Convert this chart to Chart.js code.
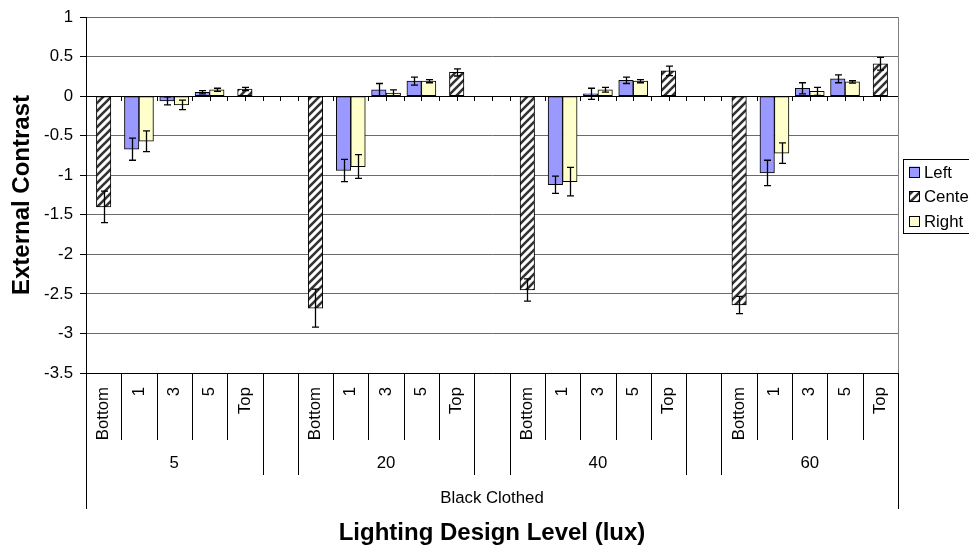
<!DOCTYPE html>
<html>
<head>
<meta charset="utf-8">
<script src="https://cdn.jsdelivr.net/npm/chart.js@4.4.0/dist/chart.umd.min.js"></script>
<style>
html,body{margin:0;padding:0;background:#fff;overflow:hidden}
#wrap{width:969px;height:547px;position:relative}
</style>
</head>
<body>
<div id="wrap"><canvas id="c" width="969" height="547"></canvas></div>
<script>
// ---- data ----
const categories = ['Bottom','1','3','5','Top','',
                    'Bottom','1','3','5','Top','',
                    'Bottom','1','3','5','Top','',
                    'Bottom','1','3','5','Top'];
const groupLabels = ['5','20','40','60'];
const groupStarts = [0, 6, 12, 18];
const outerLabel = 'Black Clothed';
const seriesNames = ['Left','Center','Right'];

const leftValues   = [null,-0.67,-0.06,0.05,null,null, null,-0.94,0.08,0.19,null,null, null,-1.12,0.03,0.20,null,null, null,-0.97,0.10,0.22,null];
const centerValues = [-1.40,null,null,null,0.09,null, -2.68,null,null,null,0.30,null, -2.45,null,null,null,0.32,null, -2.64,null,null,null,0.41];
const rightValues  = [null,-0.57,-0.11,0.08,null,null, null,-0.89,0.04,0.19,null,null, null,-1.08,0.08,0.19,null,null, null,-0.72,0.06,0.18,null];

const leftErrors   = [null,0.14,0.05,0.02,null,null, null,0.14,0.08,0.05,null,null, null,0.11,0.07,0.04,null,null, null,0.16,0.07,0.05,null];
const centerErrors = [0.20,null,null,null,0.02,null, 0.24,null,null,null,0.045,null, 0.14,null,null,null,0.06,null, 0.11,null,null,null,0.08];
const rightErrors  = [null,0.13,0.06,0.02,null,null, null,0.15,0.04,0.02,null,null, null,0.18,0.03,0.02,null,null, null,0.13,0.05,0.015,null];

const yMin = -3.5, yMax = 1, yStep = 0.5;

// ---- styles ----
const FONT = "'Liberation Sans', Arial, sans-serif";
const SMALL = 16.8;

const canvas = document.getElementById('c');
const ctx = canvas.getContext('2d');

function makeHatch() {
  const t = document.createElement('canvas');
  t.width = 8; t.height = 8;
  const g = t.getContext('2d');
  g.fillStyle = '#fff'; g.fillRect(0,0,8,8);
  g.strokeStyle = '#333'; g.lineWidth = 2.6;
  g.beginPath();
  g.moveTo(-2,10); g.lineTo(10,-2);
  g.moveTo(-2,2); g.lineTo(2,-2);
  g.moveTo(6,10); g.lineTo(10,6);
  g.stroke();
  return ctx.createPattern(t,'repeat');
}
const hatch = makeHatch();
const fills = ['#9999FF', hatch, '#FFFFCC'];
const errorsBySeries = [leftErrors, centerErrors, rightErrors];

// zero-line tick marks (behind bars)
const zeroTicks = {
  id:'zeroTicks',
  beforeDatasetsDraw(chart){
    const xs = chart.scales.x, ys = chart.scales.y, c = chart.ctx;
    const half = (xs.getPixelForValue(1) - xs.getPixelForValue(0))/2;
    const start = xs.getPixelForValue(0) - half;
    const y0 = Math.round(ys.getPixelForValue(0));
    c.save();
    c.strokeStyle = '#000'; c.lineWidth = 1;
    c.beginPath();
    for (let k = 0; k <= categories.length*2; k++) {
      const x = Math.round(start + k*half) + 0.5;
      c.moveTo(x, y0); c.lineTo(x, y0+5);
    }
    c.stroke();
    c.restore();
  }
};

// error bars
const errorBars = {
  id:'errorBars',
  afterDatasetsDraw(chart){
    const ys = chart.scales.y, c = chart.ctx;
    c.save();
    c.strokeStyle = '#000'; c.lineWidth = 1.3;
    chart.data.datasets.forEach((ds, i) => {
      const meta = chart.getDatasetMeta(i);
      const errs = errorsBySeries[i];
      ds.data.forEach((v, j) => {
        if (v === null || errs[j] === null) return;
        const el = meta.data[j];
        const x = Math.round(el.x) + 0.5;
        const yt = ys.getPixelForValue(v + errs[j]);
        const yb = ys.getPixelForValue(v - errs[j]);
        c.beginPath();
        c.moveTo(x, yt); c.lineTo(x, yb);
        c.moveTo(x-3.5, yt); c.lineTo(x+3.5, yt);
        c.moveTo(x-3.5, yb); c.lineTo(x+3.5, yb);
        c.stroke();
      });
    });
    c.restore();
  }
};

// multi-level category labels, right border, legend
const decorations = {
  id:'decorations',
  afterDraw(chart){
    const xs = chart.scales.x, c = chart.ctx, a = chart.chartArea;
    const half = (xs.getPixelForValue(1) - xs.getPixelForValue(0))/2;
    const start = xs.getPixelForValue(0) - half;
    const n = categories.length;
    c.save();
    // right plot border
    c.strokeStyle = '#808080'; c.lineWidth = 1;
    c.beginPath();
    c.moveTo(Math.round(a.right)+0.5, a.top); c.lineTo(Math.round(a.right)+0.5, a.bottom);
    c.stroke();
    // separators
    c.strokeStyle = '#000';
    c.beginPath();
    for (let k = 0; k <= n; k++) {
      const x = Math.round(start + k*2*half) + 0.5;
      let depth;
      if (k === 0 || k === n) depth = 136;
      else if (categories[k-1] === '' || categories[k] === '') depth = 102;
      else depth = 67;
      c.moveTo(x, a.bottom); c.lineTo(x, a.bottom + depth);
    }
    c.stroke();
    // group labels
    c.fillStyle = '#000';
    c.font = SMALL + 'px ' + FONT;
    c.textAlign = 'center'; c.textBaseline = 'middle';
    groupLabels.forEach((g, i) => {
      const s = groupStarts[i];
      const x = (xs.getPixelForValue(s) + xs.getPixelForValue(s+4))/2;
      c.fillText(g, x, a.bottom + 90);
    });
    c.fillText(outerLabel, (a.left + a.right)/2, a.bottom + 125);

    // legend
    const lx = a.right + 5, ly = a.top + 142;
    c.fillStyle = '#fff';
    c.fillRect(lx, ly, 120, 74);
    c.strokeStyle = '#000'; c.lineWidth = 1;
    c.strokeRect(Math.round(lx)+0.5, Math.round(ly)+0.5, 120, 74);
    c.textAlign = 'left';
    chart.data.datasets.forEach((ds, i) => {
      const cy = ly + 13 + i*24.5;
      c.fillStyle = ds.backgroundColor;
      c.fillRect(lx+6, cy-5.5, 11, 11);
      c.strokeStyle = '#000';
      c.strokeRect(Math.round(lx+6)+0.5, Math.round(cy-5.5)+0.5, 10, 10);
      c.fillStyle = '#000';
      c.fillText(ds.label, lx+21, cy+1);
    });
    c.restore();
  }
};

const seriesValues = [leftValues, centerValues, rightValues];

new Chart(ctx, {
  type:'bar',
  data:{
    labels: categories,
    datasets: seriesNames.map((name, i) => ({
      label: name,
      data: seriesValues[i],
      backgroundColor: fills[i],
      borderColor: '#000',
      borderWidth: 1,
      borderSkipped: false,
      barThickness: 14.5,
      skipNull: true
    }))
  },
  options:{
    responsive:false,
    animation:false,
    events:[],
    layout:{padding:{top:15,right:71,left:0,bottom:0}},
    plugins:{legend:{display:false}, tooltip:{enabled:false}},
    scales:{
      x:{
        offset:true,
        grid:{display:false, drawTicks:false},
        border:{display:true, color:'#000', width:1},
        ticks:{autoSkip:false, maxRotation:90, minRotation:90, padding:14, color:'#000',
               font:{family:FONT, size:SMALL}},
        title:{display:true, text:'Lighting Design Level (lux)', color:'#000', padding:0,
               font:{family:FONT, size:24, weight:'bold', lineHeight:1.1}},
        afterFit(s){ s.height = 174; }
      },
      y:{
        min:yMin, max:yMax,
        ticks:{stepSize:yStep, color:'#000', padding:7, font:{family:FONT, size:SMALL},
               callback:(v)=> String(Math.round(v*100)/100)},
        grid:{color:(c)=> (c.tick && c.tick.value === 0) ? '#000' : '#6a6a6a',
              tickColor:'#000', tickLength:6, lineWidth:1},
        border:{display:true, color:'#000', width:1},
        title:{display:true, text:'External Contrast', color:'#000', padding:{top:7.6,bottom:0},
               font:{family:FONT, size:24, weight:'bold'}},
        afterFit(s){ s.width = 86; }
      }
    }
  },
  plugins:[zeroTicks, errorBars, decorations]
});
</script>
</body>
</html>
